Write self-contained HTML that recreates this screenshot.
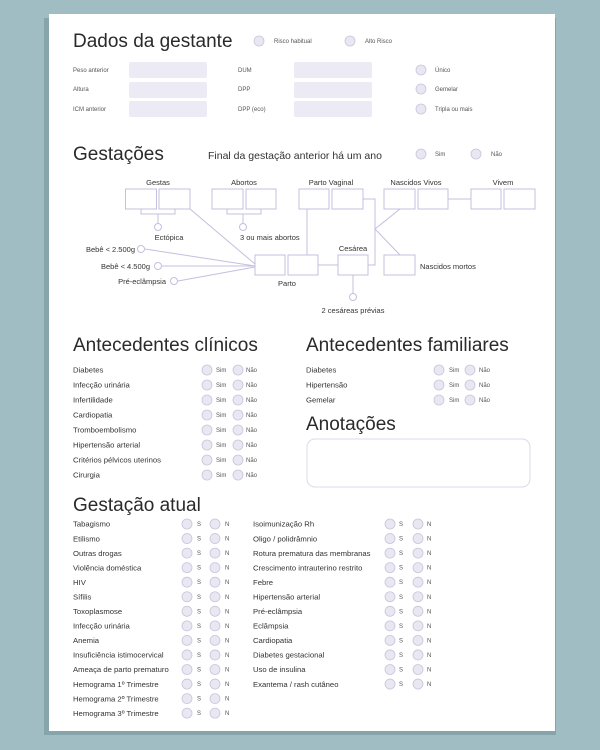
<!DOCTYPE html>
<html><head><meta charset="utf-8"><style>
html,body{margin:0;padding:0;background:#9fbdc2;}
svg{display:block;}
text{font-family:"Liberation Sans",sans-serif;fill:#333;}
.t{font-size:19px;fill:#2a2a2a;}
.s{font-size:7.7px;fill:#333;}
.xs{font-size:6px;fill:#555;}
.d{font-size:7.5px;fill:#333;}
</style></head><body>
<svg width="600" height="750" viewBox="0 0 600 750" xmlns="http://www.w3.org/2000/svg">
<rect x="0" y="0" width="600" height="750" fill="#9fbdc2"/>
<rect x="44" y="18" width="512" height="717" fill="#86a5aa"/>
<rect x="49" y="14" width="506" height="717" fill="#fff"/>

<!-- Dados da gestante -->
<text class="t" x="73" y="47">Dados da gestante</text>
<g fill="#e9e7f2" stroke="#c8c5da" stroke-width="0.8">
<circle cx="259" cy="41" r="5"/><circle cx="350" cy="41" r="5"/>
<circle cx="421" cy="70" r="5"/><circle cx="421" cy="89" r="5"/><circle cx="421" cy="109" r="5"/>
<circle cx="421" cy="154" r="5"/><circle cx="476" cy="154" r="5"/>
</g>
<text class="xs" x="274" y="43">Risco habitual</text>
<text class="xs" x="365" y="43">Alto Risco</text>
<g fill="#ebeaf5">
<rect x="129" y="62" width="78" height="16" rx="2"/><rect x="129" y="82" width="78" height="16" rx="2"/><rect x="129" y="101" width="78" height="16" rx="2"/>
<rect x="294" y="62" width="78" height="16" rx="2"/><rect x="294" y="82" width="78" height="16" rx="2"/><rect x="294" y="101" width="78" height="16" rx="2"/>
</g>
<text class="xs" x="73" y="72">Peso anterior</text><text class="xs" x="73" y="91">Altura</text><text class="xs" x="73" y="111">ICM anterior</text>
<text class="xs" x="238" y="72">DUM</text><text class="xs" x="238" y="91">DPP</text><text class="xs" x="238" y="111">DPP (eco)</text>
<text class="xs" x="435" y="72">Único</text><text class="xs" x="435" y="91">Gemelar</text><text class="xs" x="435" y="111">Tripla ou mais</text>

<!-- Gestações -->
<text class="t" x="73" y="160">Gestações</text>
<text x="208" y="159" style="font-size:10.5px">Final da gestação anterior há um ano</text>
<text class="xs" x="435" y="156">Sim</text><text class="xs" x="491" y="156">Não</text>

<g fill="none" stroke="#c4bfdf" stroke-width="1">
<rect x="125.5" y="189" width="31" height="20"/><rect x="159" y="189" width="31" height="20"/>
<rect x="212" y="189" width="31" height="20"/><rect x="246" y="189" width="30" height="20"/>
<rect x="299" y="189" width="30" height="20"/><rect x="332" y="189" width="31" height="20"/>
<rect x="384" y="189" width="31" height="20"/><rect x="418" y="189" width="30" height="20"/>
<rect x="471" y="189" width="30" height="20"/><rect x="504" y="189" width="31" height="20"/>
<rect x="255" y="255" width="30" height="20"/><rect x="288" y="255" width="30" height="20"/>
<rect x="338" y="255" width="30" height="20"/><rect x="384" y="255" width="31" height="20"/>
<polyline points="141,209 141,214 175,214 175,209"/><line x1="158" y1="214" x2="158" y2="224"/>
<polyline points="227,209 227,214 261,214 261,209"/><line x1="243" y1="214" x2="243" y2="224"/>
<line x1="190" y1="209" x2="255" y2="264"/>
<line x1="145" y1="249" x2="255" y2="266"/>
<line x1="162" y1="266" x2="255" y2="266"/>
<line x1="178" y1="281" x2="255" y2="267"/>
<line x1="307" y1="209" x2="307" y2="255"/>
<line x1="318" y1="265" x2="338" y2="265"/>
<line x1="353" y1="275" x2="353" y2="293"/>
<polyline points="363,199 375,199 375,265 368,265"/>
<line x1="375" y1="229" x2="400" y2="209"/><line x1="375" y1="229" x2="400" y2="255"/>
<line x1="448" y1="199" x2="471" y2="199"/>
</g>
<g fill="#fff" stroke="#c4bfdf" stroke-width="1">
<circle cx="158" cy="227" r="3.5"/><circle cx="243" cy="227" r="3.5"/>
<circle cx="141" cy="249" r="3.5"/><circle cx="158" cy="266" r="3.5"/><circle cx="174" cy="281" r="3.5"/>
<circle cx="353" cy="297" r="3.5"/>
</g>
<text class="d" x="158" y="185" text-anchor="middle">Gestas</text>
<text class="d" x="244" y="185" text-anchor="middle">Abortos</text>
<text class="d" x="331" y="185" text-anchor="middle">Parto Vaginal</text>
<text class="d" x="416" y="185" text-anchor="middle">Nascidos Vivos</text>
<text class="d" x="503" y="185" text-anchor="middle">Vivem</text>
<text class="d" x="169" y="240" text-anchor="middle">Ectópica</text>
<text class="d" x="240" y="240">3 ou mais abortos</text>
<text class="d" x="135" y="252" text-anchor="end">Bebê &lt; 2.500g</text>
<text class="d" x="150" y="269" text-anchor="end">Bebê &lt; 4.500g</text>
<text class="d" x="166" y="284" text-anchor="end">Pré-eclâmpsia</text>
<text class="d" x="287" y="286" text-anchor="middle">Parto</text>
<text class="d" x="353" y="251" text-anchor="middle">Cesárea</text>
<text class="d" x="420" y="269">Nascidos mortos</text>
<text class="d" x="353" y="313" text-anchor="middle">2 cesáreas prévias</text>

<!-- Antecedentes -->
<text class="t" x="73" y="351">Antecedentes clínicos</text>
<text class="t" x="306" y="351">Antecedentes familiares</text>
<text class="t" x="306" y="430">Anotações</text>
<rect x="307" y="439" width="223" height="48" rx="8" fill="#fff" stroke="#dcd9ea" stroke-width="1"/>

<text class="t" x="73" y="511">Gestação atual</text>
</svg>
<script>
(function(){
var ns="http://www.w3.org/2000/svg",svg=document.querySelector("svg");
function el(n,a,t){var e=document.createElementNS(ns,n);for(var k in a)e.setAttribute(k,a[k]);if(t)e.textContent=t;svg.appendChild(e);return e;}
function c(x,y){el("circle",{cx:x,cy:y,r:5,fill:"#e9e7f2",stroke:"#c8c5da","stroke-width":0.8});}
var ac=["Diabetes","Infecção urinária","Infertilidade","Cardiopatia","Tromboembolismo","Hipertensão arterial","Critérios pélvicos uterinos","Cirurgia"];
ac.forEach(function(s,i){var y=370+15*i;el("text",{x:73,y:y+2.7,"class":"s"},s);c(207,y);c(238,y);
el("text",{x:216,y:y+2,"class":"xs"},"Sim");el("text",{x:246,y:y+2,"class":"xs"},"Não");});
["Diabetes","Hipertensão","Gemelar"].forEach(function(s,i){var y=370+15*i;el("text",{x:306,y:y+2.7,"class":"s"},s);c(439,y);c(470,y);
el("text",{x:449,y:y+2,"class":"xs"},"Sim");el("text",{x:479,y:y+2,"class":"xs"},"Não");});
var L=["Tabagismo","Etilismo","Outras drogas","Violência doméstica","HIV","Sífilis","Toxoplasmose","Infecção urinária","Anemia","Insuficiência istimocervical","Ameaça de parto prematuro","Hemograma 1º Trimestre","Hemograma 2º Trimestre","Hemograma 3º Trimestre"];
var R=["Isoimunização Rh","Oligo / polidrâmnio","Rotura prematura das membranas","Crescimento intrauterino restrito","Febre","Hipertensão arterial","Pré-eclâmpsia","Eclâmpsia","Cardiopatia","Diabetes gestacional","Uso de insulina","Exantema / rash cutâneo"];
L.forEach(function(s,i){var y=524+14.55*i;el("text",{x:73,y:y+2.7,"class":"s"},s);c(187,y);c(215,y);
el("text",{x:197,y:y+2,"class":"xs"},"S");el("text",{x:225,y:y+2,"class":"xs"},"N");});
R.forEach(function(s,i){var y=524+14.55*i;el("text",{x:253,y:y+2.7,"class":"s"},s);c(390,y);c(418,y);
el("text",{x:399,y:y+2,"class":"xs"},"S");el("text",{x:427,y:y+2,"class":"xs"},"N");});
})();
</script>
</body></html>
